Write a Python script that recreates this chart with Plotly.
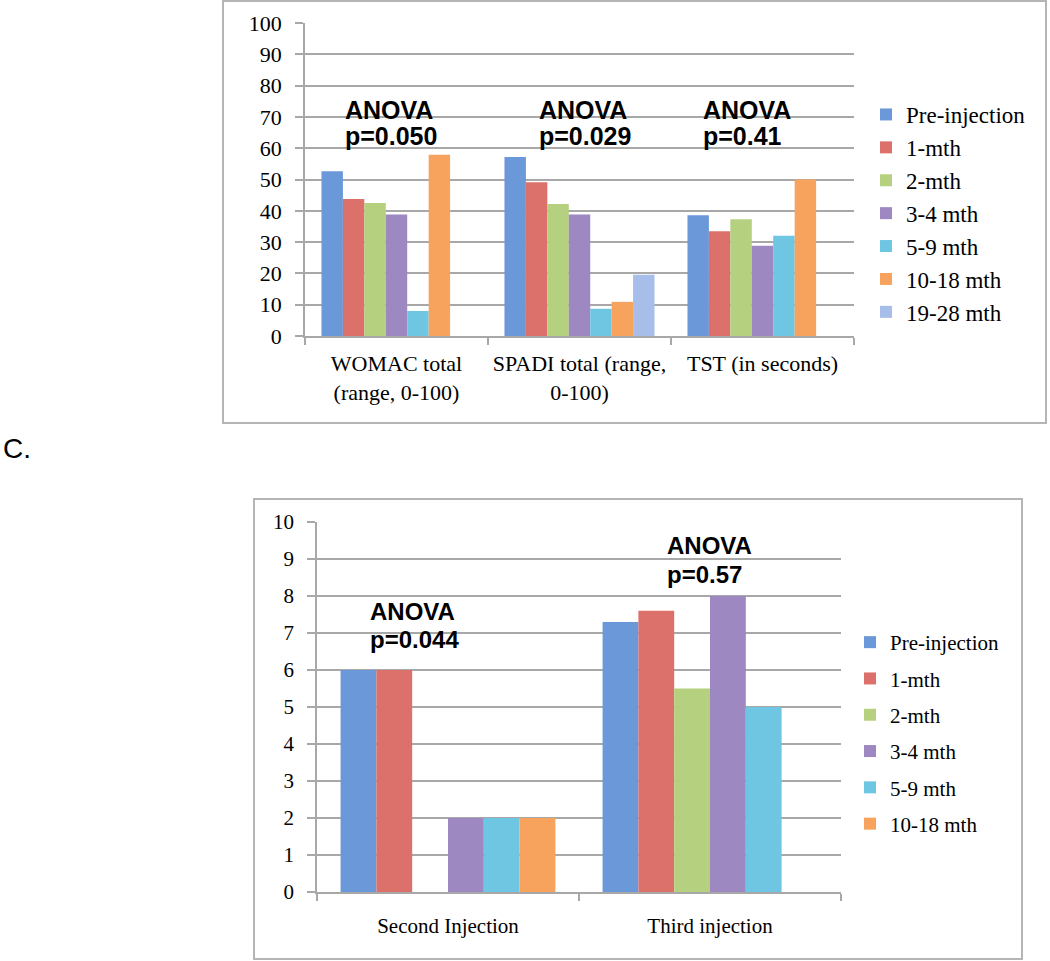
import plotly.graph_objects as go

W, H = 1050, 961


def px(x):
    return x / W


def py(y):
    return 1 - y / H


# ---------------- data ----------------
top_categories = ["WOMAC total<br>(range, 0-100)", "SPADI total (range,<br>0-100)", "TST (in seconds)"]
top_pre = [52.6, 57.2, 38.6]
top_m1 = [43.8, 49.1, 33.5]
top_m2 = [42.5, 42.2, 37.3]
top_m34 = [38.8, 38.8, 28.8]
top_m59 = [8.0, 8.7, 32.0]
top_m1018 = [57.9, 10.9, 50.0]
top_m1928 = [None, 19.6, None]

bottom_categories = ["Second Injection", "Third injection"]
bot_pre = [6.0, 7.3]
bot_m1 = [6.0, 7.6]
bot_m2 = [None, 5.5]
bot_m34 = [2.0, 8.0]
bot_m59 = [2.0, 5.0]
bot_m1018 = [2.0, None]

series_names = ["Pre-injection", "1-mth", "2-mth", "3-4 mth", "5-9 mth", "10-18 mth", "19-28 mth"]
series_colors = ["#6b98d8", "#dc716c", "#b5d07e", "#9d88c2", "#6ec6e2", "#f7a35e", "#a6bee9"]

anova_word = "ANOVA"
top_pvalues = ["p=0.050", "p=0.029", "p=0.41"]
bottom_pvalues = ["p=0.044", "p=0.57"]

# ---------------- figure ----------------
fig = go.Figure()

top_values = [top_pre, top_m1, top_m2, top_m34, top_m59, top_m1018, top_m1928]
for name, color, vals in zip(series_names, series_colors, top_values):
    fig.add_trace(go.Bar(
        x=top_categories, y=vals, name=name, marker=dict(color=color, line=dict(width=0)),
        xaxis="x", yaxis="y", legend="legend", legendgroup="t" + name,
    ))

bottom_values = [bot_pre, bot_m1, bot_m2, bot_m34, bot_m59, bot_m1018]
for name, color, vals in zip(series_names[:6], series_colors[:6], bottom_values):
    fig.add_trace(go.Bar(
        x=bottom_categories, y=vals, name=name, marker=dict(color=color, line=dict(width=0)),
        xaxis="x2", yaxis="y2", legend="legend2", legendgroup="b" + name,
    ))

SERIF = "Liberation Serif"
SANS = "Liberation Sans"
GRID = "#a8a8a8"


def x_axis(size, standoff, domain, anchor):
    return dict(type="category", showline=True, linecolor=GRID, linewidth=1.5,
                ticks="outside", tickson="boundaries", ticklen=7, tickcolor=GRID, tickwidth=1.5,
                showgrid=False, zeroline=False, automargin=False, tickangle=0,
                tickfont=dict(family=SERIF, size=size, color="black"),
                ticklabelstandoff=standoff, domain=domain, anchor=anchor)


def y_axis(size, domain, anchor, rng, dtick):
    return dict(showline=True, linecolor=GRID, linewidth=1.5, showgrid=True, gridcolor=GRID, gridwidth=1.5,
                ticks="outside", ticklen=8, tickcolor=GRID, tickwidth=1.5, zeroline=False, automargin=False,
                tickfont=dict(family=SERIF, size=size, color="black"), ticklabelstandoff=9,
                domain=domain, anchor=anchor, range=rng, dtick=dtick)


fig.update_layout(
    template="none",
    width=W, height=H,
    margin=dict(l=0, r=0, t=0, b=0, pad=0, autoexpand=False),
    paper_bgcolor="white", plot_bgcolor="white",
    barmode="group", bargap=0.18, bargroupgap=0,
    xaxis=x_axis(22, 7, [px(305), px(854)], "y"),
    yaxis=y_axis(22, [py(336), py(23)], "x", [0, 100], 10),
    xaxis2=x_axis(21, 14, [px(317), px(841)], "y2"),
    yaxis2=y_axis(21, [py(892), py(522)], "x2", [0, 10], 1),
    legend=dict(x=px(866), y=py(93), xanchor="left", yanchor="top",
                font=dict(family=SERIF, size=23, color="black"),
                bgcolor="rgba(0,0,0,0)", borderwidth=0, tracegroupgap=0, traceorder="grouped"),
    legend2=dict(x=px(850), y=py(622), xanchor="left", yanchor="top",
                 font=dict(family=SERIF, size=21, color="black"),
                 bgcolor="rgba(0,0,0,0)", borderwidth=0, tracegroupgap=6, traceorder="grouped"),
    showlegend=True,
)

# panel frames
fig.add_shape(type="rect", xref="paper", yref="paper",
              x0=px(223), x1=px(1046), y0=py(423), y1=py(1),
              line=dict(color="#b5b5b5", width=2), fillcolor="rgba(0,0,0,0)", layer="below")
fig.add_shape(type="rect", xref="paper", yref="paper",
              x0=px(254), x1=px(1022), y0=py(959), y1=py(499),
              line=dict(color="#b5b5b5", width=2), fillcolor="rgba(0,0,0,0)", layer="below")


def anova_label(xl, y1, y2, pval, size):
    fig.add_annotation(text="<b>" + anova_word + "</b>", xref="paper", yref="paper",
                       x=px(xl), y=py(y1), xanchor="left", yanchor="middle",
                       showarrow=False, font=dict(family=SANS, size=size, color="black"))
    fig.add_annotation(text="<b>" + pval + "</b>", xref="paper", yref="paper",
                       x=px(xl), y=py(y2), xanchor="left", yanchor="middle",
                       showarrow=False, font=dict(family=SANS, size=size, color="black"))


# ANOVA annotations
for xl, pv in zip([343, 537, 701], top_pvalues):
    anova_label(xl, 110, 136, pv, 25)

for xl, (y1, y2), pv in zip([368, 665], [(611, 639), (545, 574)], bottom_pvalues):
    anova_label(xl, y1, y2, pv, 24)

fig.add_annotation(text="C.", xref="paper", yref="paper", x=px(1), y=py(448),
                   xanchor="left", yanchor="middle", showarrow=False,
                   font=dict(family=SANS, size=28, color="black"))

fig.write_html("out.html", config={"displayModeBar": False},
               post_script="document.body.style.margin = '0px';")
